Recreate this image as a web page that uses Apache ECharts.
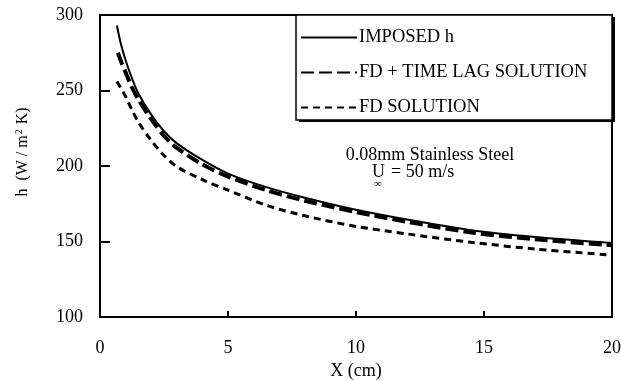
<!DOCTYPE html>
<html>
<head>
<meta charset="utf-8">
<script src="https://cdn.jsdelivr.net/npm/echarts@6/dist/echarts.min.js"></script>
<style>
  html, body { margin: 0; padding: 0; background: #fff; }
  #chart { width: 621px; height: 381px; }
</style>
</head>
<body>
<div id="chart"></div>
<script>
// Heat transfer coefficient along the plate, X in cm
const imposedX = [0.66, 0.8, 1.0, 1.25, 1.5, 2.0, 2.5, 3.0, 4.0, 5.0, 6.5, 8, 10, 12, 14.5, 17, 20];
const imposedH = [293, 282, 270, 258, 248, 234, 223, 215, 204, 195, 186, 179, 171, 164.5, 157.5, 153, 149];

const lagX = [0.7, 0.85, 1.0, 1.25, 1.5, 2.0, 2.5, 3.0, 4.0, 5.0, 6.5, 8, 10, 12, 14.5, 17, 20];
const lagH = [275, 268, 262, 252, 244, 231, 220, 212, 201, 193, 184, 177, 169.5, 163, 156, 151.5, 147.5];

const fdX = [0.66, 0.8, 1.0, 1.25, 1.5, 2.0, 2.5, 3.0, 4.0, 5.0, 6.5, 8, 10, 12, 14.5, 17, 20];
const fdH = [256, 252, 246, 237, 229, 217, 207, 199.5, 191, 184, 174, 167, 160, 155, 149.5, 145, 141];

const seriesNames = ['IMPOSED h', 'FD + TIME LAG SOLUTION', 'FD SOLUTION'];
const xTicks = [0, 5, 10, 15, 20];
const yTicks = [100, 150, 200, 250, 300];

const FONT = '"Liberation Serif", "DejaVu Serif", serif';
const pair = (xs, ys) => xs.map((x, i) => [x, ys[i]]);

const chart = echarts.init(document.getElementById('chart'), null, { renderer: 'canvas' });

chart.setOption({
  backgroundColor: '#fff',
  animation: false,
  grid: {
    left: 100, top: 15, right: 9, bottom: 64,
    containLabel: false, outerBoundsMode: 'none',
    show: true, borderColor: '#000', borderWidth: 2, backgroundColor: 'transparent'
  },
  xAxis: {
    type: 'value',
    min: xTicks[0], max: xTicks[xTicks.length - 1], interval: 5,
    axisLine: { lineStyle: { color: '#000', width: 2 } },
    axisTick: { inside: true, length: 6, lineStyle: { color: '#000', width: 2 } },
    axisLabel: { color: '#000', fontFamily: FONT, fontSize: 18, margin: 22 },
    splitLine: { show: false },
    name: 'X (cm)', nameLocation: 'middle', nameGap: 36,
    nameTextStyle: { color: '#000', fontFamily: FONT, fontSize: 18 }
  },
  yAxis: {
    type: 'value',
    min: yTicks[0], max: yTicks[yTicks.length - 1], interval: 50,
    axisLine: { lineStyle: { color: '#000', width: 2 } },
    axisTick: { inside: true, length: 10, lineStyle: { color: '#000', width: 2 } },
    axisLabel: { color: '#000', fontFamily: FONT, fontSize: 18, margin: 17 },
    splitLine: { show: false }
  },
  legend: {
    orient: 'vertical',
    left: 300, top: 28,
    itemWidth: 56, itemHeight: 14, itemGap: 16,
    padding: 0,
    itemStyle: { color: 'rgba(0,0,0,0)', borderWidth: 0, opacity: 0 },
    textStyle: { color: '#000', fontFamily: FONT, fontSize: 18.5, padding: [0, 0, 0, -3] },
    data: seriesNames,
    z: 10
  },
  graphic: [
    // legend frame with a drop shadow
    { type: 'rect', z: 5, shape: { x: 299, y: 17, width: 316, height: 105 }, style: { fill: '#000' } },
    { type: 'rect', z: 6, shape: { x: 296, y: 15, width: 316, height: 105 },
      style: { fill: '#fff', stroke: '#000', lineWidth: 1.5 } },
    // y axis title
    { type: 'text', z: 10, x: 23, y: 152, rotation: Math.PI / 2,
      style: {
        text: 'h  (W / m{sup|2} K)', rich: { sup: { fontSize: 10, fontFamily: FONT, padding: [0, 1, 8, 1], fill: '#000' } },
        fontFamily: FONT, fontSize: 16, fill: '#000', align: 'center', verticalAlign: 'middle'
      } },
    // annotation
    { type: 'text', z: 10, x: 430, y: 155,
      style: { text: '0.08mm Stainless Steel', fontFamily: FONT, fontSize: 18, fill: '#000', align: 'center', verticalAlign: 'middle' } },
    { type: 'text', z: 10, x: 372, y: 172,
      style: { text: 'U', fontFamily: FONT, fontSize: 18, fill: '#000', align: 'left', verticalAlign: 'middle' } },
    { type: 'text', z: 10, x: 378, y: 184,
      style: { text: '\u221E', fontFamily: FONT, fontSize: 11, fill: '#000', align: 'center', verticalAlign: 'middle' } },
    { type: 'text', z: 10, x: 391, y: 172,
      style: { text: '= 50 m/s', fontFamily: FONT, fontSize: 18, fill: '#000', align: 'left', verticalAlign: 'middle' } }
  ],
  series: [
    {
      name: seriesNames[0], type: 'line', smooth: 0.3, symbol: 'none', z: 3,
      lineStyle: { color: '#000', width: 2, type: 'solid' },
      itemStyle: { color: '#000' },
      data: pair(imposedX, imposedH)
    },
    {
      name: seriesNames[1], type: 'line', smooth: 0.3, symbol: 'none', z: 2,
      lineStyle: { color: '#000', width: 4, type: [13, 5] },
      itemStyle: { color: '#000' },
      data: pair(lagX, lagH)
    },
    {
      name: seriesNames[2], type: 'line', smooth: 0.3, symbol: 'none', z: 2,
      lineStyle: { color: '#000', width: 3, type: [7, 5] },
      itemStyle: { color: '#000' },
      data: pair(fdX, fdH)
    }
  ]
});
</script>
</body>
</html>
